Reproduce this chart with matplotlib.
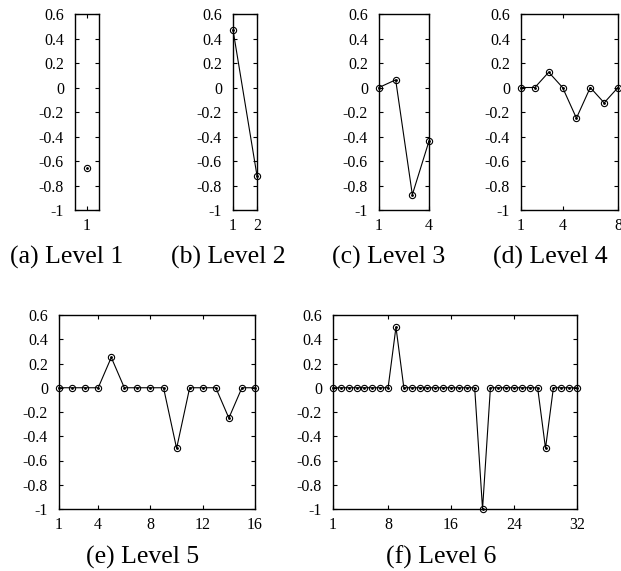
import numpy as np
import matplotlib.pyplot as plt

plt.rcParams['font.family'] = ['Liberation Serif', 'DejaVu Serif']

# coefficients per level
level1 = [-0.655]
level2 = [0.47, -0.72]
level3 = [0.0, 0.0625, -0.875, -0.4375]
level4 = [0, 0, 0.125, 0, -0.25, 0, -0.125, 0]
level5 = [0, 0, 0, 0, 0.25, 0, 0, 0, 0, -0.5, 0, 0, 0, -0.25, 0, 0]
level6 = [0] * 32
level6[8] = 0.5
level6[19] = -1.0
level6[27] = -0.5

levels = [level1, level2, level3, level4, level5, level6]
captions = ['(a) Level 1', '(b) Level 2', '(c) Level 3',
            '(d) Level 4', '(e) Level 5', '(f) Level 6']
xticks = [[1], [1, 2], [1, 4], [1, 4, 8], [1, 4, 8, 12, 16], [1, 8, 16, 24, 32]]
yticks = [0.6, 0.4, 0.2, 0, -0.2, -0.4, -0.6, -0.8, -1]
ylabels = ['0.6', '0.4', '0.2', '0', '-0.2', '-0.4', '-0.6', '-0.8', '-1']

W, H = 621, 571
fig = plt.figure(figsize=(W / 100, H / 100), dpi=100)

# axes boxes in pixels: left, right, top, bottom
boxes = [(75, 99, 14, 210), (233, 257, 14, 210), (379, 429, 14, 210),
         (521, 618, 14, 210), (59, 255, 315, 509), (333, 577, 315, 509)]
cap_pos = [(67, 257), (228, 257), (389, 257), (550, 257), (143, 557), (441, 557)]

for vals, cap, xt, box, cp in zip(levels, captions, xticks, boxes, cap_pos):
    l, r, t, b = box
    ax = fig.add_axes([l / W, 1 - b / H, (r - l) / W, (b - t) / H])
    x = np.arange(1, len(vals) + 1)
    ax.plot(x, vals, color='black', lw=0.8, marker='o', ms=4.5,
            mfc='none', mec='black', mew=0.8, clip_on=False)
    ax.plot(x, vals, ls='none', marker='o', ms=1, color='black', clip_on=False)
    if len(vals) == 1:
        ax.set_xlim(0.5, 1.5)
    else:
        ax.set_xlim(1, len(vals))
    ax.set_ylim(-1, 0.6)
    ax.set_xticks(xt)
    ax.set_yticks(yticks)
    ax.set_yticklabels(ylabels)
    ax.tick_params(direction='in', top=True, right=True, length=3,
                   labelsize=11.5)
    ax.tick_params(axis='x', pad=6)
    ax.tick_params(axis='y', pad=8)
    for s in ax.spines.values():
        s.set_linewidth(1.0)
    fig.text(cp[0] / W, 1 - cp[1] / H, cap, ha='center', va='center', fontsize=18.5)

plt.savefig('out.png', dpi=100)
